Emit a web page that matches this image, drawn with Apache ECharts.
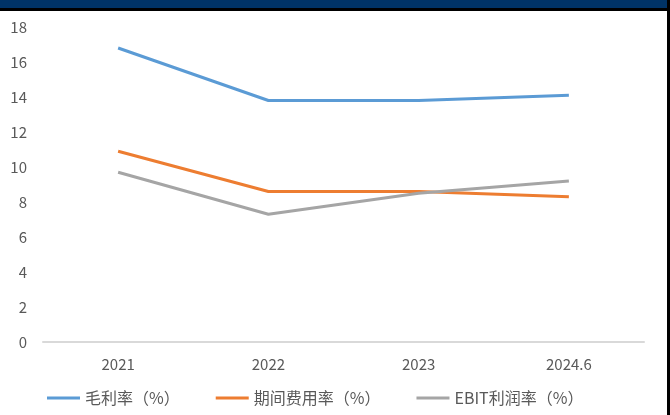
<!DOCTYPE html>
<html>
<head>
<meta charset="utf-8">
<script src="https://cdn.jsdelivr.net/npm/echarts@6/dist/echarts.min.js"></script>
<style>html,body{margin:0;padding:0;background:#fff;}#c{width:670px;height:415px;}</style>
</head>
<body>
<div id="c"></div>
<script>
var categories = ['2021', '2022', '2023', '2024.6'];
var grossMargin = [16.8, 13.8, 13.8, 14.1];
var expenseRate = [10.9, 8.6, 8.6, 8.3];
var ebitMargin = [9.7, 7.3, 8.5, 9.2];
var seriesNames = ['毛利率（%）', '期间费用率（%）', 'EBIT利润率（%）'];
var yMin = 0, yMax = 18, yStep = 2;

var chart = echarts.init(document.getElementById('c'), null, {renderer: 'canvas'});
var font = '"Noto Sans CJK SC", "Noto Sans", sans-serif';
chart.setOption({
  animation: false,
  backgroundColor: '#ffffff',
  grid: {left: 43, right: 26, top: 27, bottom: 73},
  legend: {
    left: 42, top: 385,
    icon: 'rect', itemWidth: 33, itemHeight: 3, itemGap: 36,
    textStyle: {color: '#595959', fontSize: 16, fontFamily: font},
    data: seriesNames
  },
  xAxis: {
    type: 'category', data: categories, boundaryGap: true,
    axisLine: {lineStyle: {color: '#D9D9D9', width: 2}},
    axisTick: {show: false},
    axisLabel: {color: '#595959', fontSize: 15, margin: 15, fontFamily: font}
  },
  yAxis: {
    type: 'value', min: yMin, max: yMax, interval: yStep,
    axisLine: {show: false}, axisTick: {show: false}, splitLine: {show: false},
    axisLabel: {color: '#595959', fontSize: 15, margin: 16, fontFamily: font}
  },
  series: [
    {name: seriesNames[0], type: 'line', data: grossMargin, symbol: 'none', lineStyle: {width: 3, color: '#5B9BD5'}, itemStyle: {color: '#5B9BD5'}},
    {name: seriesNames[1], type: 'line', data: expenseRate, symbol: 'none', lineStyle: {width: 3, color: '#ED7D31'}, itemStyle: {color: '#ED7D31'}},
    {name: seriesNames[2], type: 'line', data: ebitMargin, symbol: 'none', lineStyle: {width: 3, color: '#A5A5A5'}, itemStyle: {color: '#A5A5A5'}}
  ],
  graphic: [
    {type: 'rect', shape: {x: 0, y: 0, width: 670, height: 8}, style: {fill: '#003366'}, silent: true},
    {type: 'rect', shape: {x: 0, y: 8, width: 670, height: 3}, style: {fill: '#000000'}, silent: true},
    {type: 'rect', shape: {x: 667, y: 0, width: 3, height: 415}, style: {fill: '#000000'}, silent: true}
  ]
});
</script>
</body>
</html>
